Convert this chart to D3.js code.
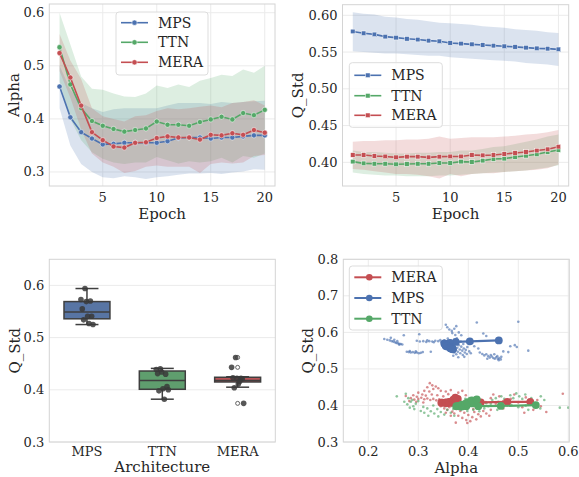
<!DOCTYPE html>
<html><head><meta charset="utf-8">
<script src="https://cdn.jsdelivr.net/npm/d3@7"></script>
<style>body{margin:0;background:#fff}svg{display:block}text{font-family:"DejaVu Serif",serif;fill:#262626}</style>
</head><body><svg id="c" width="579" height="477"></svg>
<script>
// ---------------- DATA ----------------
const epochs = d3.range(1, 21);
const archs = ["MPS", "TTN", "MERA"];
// Panel 1: Alpha mean per epoch
const alphaMPS  = [0.461,0.403,0.375,0.363,0.352,0.353,0.355,0.355,0.355,0.355,0.358,0.364,0.365,0.365,0.363,0.365,0.365,0.367,0.369,0.369];
const alphaTTN  = [0.535,0.465,0.420,0.396,0.387,0.381,0.376,0.379,0.382,0.395,0.389,0.389,0.387,0.394,0.399,0.404,0.399,0.411,0.407,0.417];
const alphaMERA = [0.524,0.478,0.425,0.375,0.360,0.348,0.346,0.355,0.356,0.364,0.367,0.365,0.365,0.361,0.370,0.369,0.373,0.370,0.379,0.374];
const alphaLoMPS  = [0.420,0.350,0.315,0.300,0.290,0.288,0.292,0.290,0.287,0.290,0.292,0.295,0.297,0.297,0.298,0.296,0.299,0.301,0.305,0.304];
const alphaHiMPS  = [0.500,0.455,0.430,0.420,0.413,0.418,0.420,0.420,0.420,0.420,0.425,0.430,0.430,0.430,0.428,0.432,0.430,0.432,0.433,0.434];
const alphaLoTTN  = [0.470,0.400,0.360,0.337,0.325,0.318,0.315,0.318,0.318,0.328,0.322,0.316,0.320,0.318,0.320,0.327,0.318,0.330,0.327,0.335];
const alphaHiTTN  = [0.600,0.540,0.480,0.457,0.455,0.448,0.442,0.441,0.448,0.463,0.458,0.465,0.460,0.472,0.477,0.483,0.481,0.493,0.487,0.500];
const alphaLoMERA = [0.490,0.440,0.380,0.335,0.318,0.310,0.298,0.302,0.310,0.312,0.310,0.310,0.310,0.298,0.315,0.318,0.316,0.318,0.330,0.332];
const alphaHiMERA = [0.560,0.510,0.475,0.420,0.405,0.400,0.395,0.405,0.407,0.415,0.420,0.418,0.420,0.423,0.425,0.422,0.430,0.432,0.435,0.425];
// Panel 2: Q_Std mean per epoch
const qMPS  = [0.578,0.5755,0.574,0.571,0.5696,0.568,0.567,0.5655,0.5646,0.5624,0.5615,0.5605,0.5596,0.5587,0.5578,0.557,0.556,0.555,0.5546,0.5537];
const qTTN  = [0.401,0.3986,0.398,0.398,0.3973,0.3977,0.398,0.398,0.399,0.399,0.401,0.4005,0.4023,0.4045,0.405,0.4073,0.409,0.4109,0.414,0.4168];
const qMERA = [0.410,0.410,0.4086,0.408,0.4068,0.4077,0.4077,0.4068,0.4077,0.408,0.408,0.410,0.4095,0.410,0.4113,0.4127,0.414,0.416,0.4177,0.4213];
const qHiMPS  = [0.604,0.602,0.601,0.598,0.597,0.595,0.594,0.592,0.590,0.589,0.588,0.587,0.585,0.584,0.583,0.581,0.580,0.579,0.577,0.576];
const qLoMPS  = [0.551,0.550,0.549,0.548,0.548,0.547,0.546,0.545,0.545,0.543,0.542,0.541,0.540,0.539,0.538,0.537,0.535,0.534,0.533,0.531];
const qHiTTN  = [0.416,0.414,0.414,0.413,0.412,0.412,0.413,0.413,0.414,0.414,0.416,0.416,0.418,0.421,0.422,0.425,0.428,0.431,0.435,0.438];
const qLoTTN  = [0.386,0.384,0.383,0.382,0.382,0.381,0.381,0.381,0.382,0.382,0.383,0.384,0.385,0.386,0.387,0.388,0.389,0.391,0.393,0.396];
const qHiMERA = [0.428,0.429,0.429,0.430,0.430,0.431,0.431,0.432,0.435,0.432,0.433,0.434,0.434,0.434,0.435,0.436,0.438,0.439,0.441,0.444];
const qLoMERA = [0.391,0.390,0.388,0.386,0.384,0.384,0.383,0.381,0.378,0.384,0.381,0.384,0.385,0.385,0.387,0.388,0.389,0.390,0.392,0.397];
// Panel 3: final Q_Std per run (box + strip)
const boxQ1  = [0.536, 0.401, 0.415];
const boxMed = [0.549, 0.418, 0.418];
const boxQ3  = [0.569, 0.436, 0.424];
const boxLo  = [0.525, 0.382, 0.405];
const boxHi  = [0.594, 0.441, 0.425];
const fliersMERA = [0.462, 0.443, 0.374];
const runsMPS  = [0.594,0.573,0.570,0.569,0.555,0.541,0.541,0.534,0.525,0.527];
const runsTTN  = [0.440,0.439,0.430,0.434,0.431,0.406,0.402,0.398,0.400,0.382];
const runsMERA = [0.462,0.443,0.422,0.422,0.423,0.421,0.411,0.404,0.374,0.416];
// Panel 4: per-run (Alpha, Q_Std) scatter
const ptsMPS = [[0.232,0.582],[0.238,0.580],[0.243,0.578],[0.247,0.576],[0.250,0.575],[0.253,0.573],[0.256,0.571],[0.259,0.570],[0.262,0.569],[0.265,0.568],[0.268,0.567],[0.245,0.585],[0.252,0.580],[0.258,0.576],[0.271,0.592],[0.262,0.566],[0.302,0.595],
[0.277,0.547],[0.281,0.546],[0.285,0.545],[0.289,0.546],[0.293,0.544],[0.297,0.545],[0.301,0.543],[0.305,0.544],[0.309,0.546],[0.283,0.549],[0.295,0.548],[0.325,0.547],
[0.297,0.577],[0.303,0.575],[0.310,0.576],[0.316,0.574],[0.322,0.576],[0.328,0.575],[0.334,0.577],[0.340,0.576],[0.346,0.574],[0.352,0.578],[0.318,0.578],[0.331,0.573],[0.344,0.579],[0.356,0.575],
[0.350,0.570],[0.355,0.566],[0.358,0.572],[0.360,0.562],[0.362,0.558],[0.364,0.566],[0.366,0.552],[0.368,0.548],[0.369,0.560],[0.371,0.556],[0.372,0.545],[0.373,0.563],[0.375,0.551],[0.376,0.540],[0.378,0.558],[0.379,0.547],[0.381,0.565],[0.383,0.553],[0.384,0.543],[0.386,0.561],[0.388,0.550],[0.389,0.538],[0.391,0.556],[0.393,0.545],[0.395,0.552],[0.397,0.541],[0.372,0.580],[0.377,0.584],[0.365,0.578],[0.359,0.583],[0.385,0.575],[0.390,0.568],[0.380,0.532],[0.370,0.536],[0.392,0.533],[0.398,0.560],[0.402,0.548],[0.405,0.543],
[0.355,0.621],[0.358,0.614],[0.362,0.608],[0.367,0.604],[0.372,0.610],[0.376,0.617],[0.368,0.598],[0.381,0.600],[0.386,0.592],[0.374,0.593],[0.417,0.627],[0.500,0.629],[0.430,0.597],[0.436,0.590],
[0.423,0.545],[0.428,0.541],[0.432,0.537],[0.436,0.540],[0.440,0.535],[0.443,0.531],[0.447,0.534],[0.450,0.530],[0.453,0.528],[0.456,0.532],[0.459,0.527],[0.462,0.530],[0.465,0.526],[0.445,0.538],[0.452,0.540],[0.438,0.528],[0.458,0.535],[0.466,0.533],[0.461,0.524],[0.470,0.548],[0.480,0.546],[0.493,0.565],[0.497,0.560],[0.520,0.550],[0.412,0.562],[0.420,0.556],[0.408,0.571],[0.484,0.562]];
const ptsMERA = [[0.323,0.461],[0.328,0.455],[0.318,0.450],[0.335,0.452],[0.330,0.445],[0.340,0.447],[0.312,0.440],[0.322,0.438],[0.345,0.440],[0.300,0.435],[0.308,0.430],[0.290,0.428],[0.297,0.424],[0.285,0.420],[0.292,0.416],[0.300,0.418],[0.306,0.421],[0.312,0.417],[0.318,0.419],[0.324,0.415],[0.330,0.418],[0.336,0.414],[0.342,0.417],[0.348,0.413],[0.354,0.416],[0.360,0.412],[0.366,0.418],[0.372,0.421],[0.378,0.425],[0.315,0.427],[0.327,0.430],[0.338,0.428],[0.350,0.425],[0.360,0.431],[0.282,0.412],[0.296,0.410],[0.310,0.408],[0.355,0.438],[0.365,0.442],[0.380,0.435],[0.388,0.440],[0.395,0.428],[0.275,0.426],
[0.345,0.398],[0.352,0.392],[0.358,0.388],[0.362,0.395],[0.368,0.383],[0.372,0.378],[0.376,0.390],[0.380,0.372],[0.384,0.385],[0.388,0.366],[0.392,0.380],[0.396,0.360],[0.400,0.374],[0.404,0.357],[0.408,0.368],[0.412,0.382],[0.416,0.362],[0.420,0.376],[0.425,0.370],[0.430,0.385],[0.436,0.378],[0.442,0.372],[0.375,0.353],[0.398,0.352],[0.365,0.372],[0.384,0.395],[0.355,0.380],[0.410,0.390],[0.445,0.388],
[0.425,0.415],[0.435,0.409],[0.445,0.420],[0.455,0.405],[0.462,0.425],[0.470,0.412],[0.478,0.400],[0.485,0.418],[0.492,0.430],[0.500,0.408],[0.508,0.395],[0.515,0.422],[0.522,0.402],[0.530,0.388],[0.538,0.415],[0.545,0.398],[0.556,0.382],[0.589,0.432],[0.512,0.380],[0.470,0.392],[0.450,0.430]];
const ptsTTN = [[0.257,0.425],[0.275,0.432],[0.280,0.420],[0.285,0.410],[0.278,0.403],[0.290,0.398],[0.283,0.394],[0.295,0.405],[0.288,0.415],[0.300,0.412],[0.272,0.410],[0.292,0.390],
[0.305,0.385],[0.312,0.380],[0.318,0.392],[0.325,0.384],[0.332,0.378],[0.338,0.390],[0.345,0.382],[0.352,0.375],[0.358,0.388],[0.365,0.380],[0.372,0.372],[0.320,0.372],[0.340,0.370],[0.310,0.396],[0.330,0.400],[0.355,0.398],
[0.362,0.405],[0.368,0.398],[0.372,0.410],[0.376,0.402],[0.380,0.395],[0.384,0.408],[0.388,0.400],[0.392,0.412],[0.396,0.404],[0.400,0.396],[0.404,0.408],[0.408,0.400],[0.412,0.414],[0.416,0.404],[0.420,0.396],[0.424,0.410],[0.428,0.402],[0.432,0.392],[0.436,0.406],[0.440,0.398],[0.386,0.388],[0.398,0.385],[0.410,0.388],[0.422,0.384],[0.378,0.415],[0.394,0.418],[0.402,0.420],[0.414,0.422],[0.370,0.390],[0.445,0.405],
[0.448,0.415],[0.455,0.420],[0.460,0.410],[0.466,0.425],[0.472,0.418],[0.478,0.412],[0.484,0.428],[0.490,0.420],[0.496,0.433],[0.502,0.425],[0.508,0.418],[0.514,0.430],[0.520,0.412],[0.526,0.420],[0.532,0.405],[0.538,0.398],[0.544,0.392],[0.470,0.398],[0.486,0.402],[0.500,0.395],[0.515,0.400],[0.458,0.388],[0.520,0.388],[0.583,0.394],[0.600,0.394],[0.552,0.415],[0.545,0.425]];
// tick labels
const ticksAlphaY = [0.3,0.4,0.5,0.6];
const ticksEpoch = [5,10,15,20];
const ticksQY = [0.40,0.45,0.50,0.55,0.60];
const ticksBoxY = [0.3,0.4,0.5,0.6];
const ticksScatY = [0.3,0.4,0.5,0.6,0.7,0.8];
const ticksScatX = [0.2,0.3,0.4,0.5,0.6];

// ---------------- STYLE ----------------
const col = {MPS:"#4c72b0", TTN:"#55a868", MERA:"#c44e52"};
const boxCol = {MPS:"#5875a4", TTN:"#5f9e6e", MERA:"#bb5558"};
const GRID="#ebebeb", FRAME="#d4d4d4";
const svg = d3.select("#c");

function panel(r, x, y, xt, yt, fx, fy, opt){
  const g = svg.append("g");
  if (opt.gridX !== false) g.selectAll(null).data(xt).join("line")
    .attr("x1",d=>x(d)).attr("x2",d=>x(d)).attr("y1",r.y0).attr("y2",r.y1)
    .attr("stroke",GRID).attr("stroke-width",1);
  g.selectAll(null).data(yt).join("text").attr("x",r.x0-5).attr("y",d=>y(d)+4.5)
    .attr("text-anchor","end").attr("font-size",13).text(fy);
  g.selectAll(null).data(yt).join("line")
    .attr("y1",d=>y(d)).attr("y2",d=>y(d)).attr("x1",r.x0).attr("x2",r.x1)
    .attr("stroke",GRID).attr("stroke-width",1);
  if (xt) g.selectAll(null).data(xt).join("text").attr("x",d=>x(d)).attr("y",opt.xtY)
    .attr("text-anchor","middle").attr("font-size",13).text(fx);
  g.append("text").attr("x",(r.x0+r.x1)/2).attr("y",opt.xlY).attr("text-anchor","middle")
    .attr("font-size",15).text(opt.xl);
  g.append("text").attr("transform",`translate(${opt.ylX},${(r.y0+r.y1)/2}) rotate(-90)`)
    .attr("text-anchor","middle").attr("font-size",15).text(opt.yl);
  return g;
}
function frame(r){
  svg.append("rect").attr("x",r.x0).attr("y",r.y0).attr("width",r.x1-r.x0).attr("height",r.y1-r.y0)
    .attr("fill","none").attr("stroke",FRAME).attr("stroke-width",1);
}
function legend(x0,y0,w,h,rows,rowY,marker){
  const g = svg.append("g");
  g.append("rect").attr("x",x0).attr("y",y0).attr("width",w).attr("height",h).attr("rx",3)
    .attr("fill","#fff").attr("fill-opacity",0.8).attr("stroke","#dddddd");
  rows.forEach((a,i)=>{
    const yy = y0+rowY[i];
    g.append("line").attr("x1",x0+5).attr("x2",x0+32).attr("y1",yy).attr("y2",yy)
      .attr("stroke",col[a]).attr("stroke-width",marker.lw);
    marker.draw(g, x0+18.5, yy, col[a]);
    g.append("text").attr("x",x0+42).attr("y",yy+5).attr("font-size",14).text(a);
  });
}
const circ = r => (g,cx,cy,c)=>g.append("circle").attr("cx",cx).attr("cy",cy).attr("r",r).attr("fill",c).attr("stroke","#fff").attr("stroke-width",0.5);
const sq = s => (g,cx,cy,c)=>g.append("rect").attr("x",cx-s/2).attr("y",cy-s/2).attr("width",s).attr("height",s).attr("fill",c).attr("stroke","#fff").attr("stroke-width",0.5);

// ---------- Panel 1 ----------
{
  const r = {x0:49.3,x1:275,y0:4,y1:186};
  const x = d3.scaleLinear().domain([0.05,20.95]).range([r.x0,r.x1]);
  const y = d3.scaleLinear().domain([0.2736,0.6164]).range([r.y1,r.y0]);
  panel(r,x,y,ticksEpoch,ticksAlphaY,d=>d,d3.format(".1f"),{xtY:202,xlY:219,xl:"Epoch",ylX:19,yl:"Alpha"});
  const series = [["MPS",alphaMPS,alphaLoMPS,alphaHiMPS],["TTN",alphaTTN,alphaLoTTN,alphaHiTTN],["MERA",alphaMERA,alphaLoMERA,alphaHiMERA]];
  const g = svg.append("g");
  series.forEach(([a,m,lo,hi])=>{
    g.append("path").datum(epochs.map((e,i)=>[e,lo[i],hi[i]]))
      .attr("d",d3.area().x(d=>x(d[0])).y0(d=>y(d[1])).y1(d=>y(d[2])))
      .attr("fill",col[a]).attr("fill-opacity",0.2);
  });
  series.forEach(([a,m])=>{
    g.append("path").datum(epochs.map((e,i)=>[e,m[i]]))
      .attr("d",d3.line().x(d=>x(d[0])).y(d=>y(d[1]))).attr("fill","none").attr("stroke",col[a]).attr("stroke-width",1.6);
    epochs.forEach((e,i)=>circ(2.6)(g,x(e),y(m[i]),col[a]));
  });
  frame(r);
  legend(116,12,92,63,archs,[10.7,30.3,50.3],{lw:1.6,draw:circ(2.6)});
}
// ---------- Panel 2 ----------
{
  const r = {x0:342.5,x1:568.7,y0:4.7,y1:186};
  const x = d3.scaleLinear().domain([0.05,20.95]).range([r.x0,r.x1]);
  const y = d3.scaleLinear().domain([0.3678,0.6144]).range([r.y1,r.y0]);
  panel(r,x,y,ticksEpoch,ticksQY,d=>d,d3.format(".2f"),{xtY:202,xlY:219,xl:"Epoch",ylX:303,yl:"Q_Std"});
  const series = [["MPS",qMPS,qLoMPS,qHiMPS],["TTN",qTTN,qLoTTN,qHiTTN],["MERA",qMERA,qLoMERA,qHiMERA]];
  const g = svg.append("g");
  series.forEach(([a,m,lo,hi])=>{
    g.append("path").datum(epochs.map((e,i)=>[e,lo[i],hi[i]]))
      .attr("d",d3.area().x(d=>x(d[0])).y0(d=>y(d[1])).y1(d=>y(d[2])))
      .attr("fill",col[a]).attr("fill-opacity",0.2);
  });
  series.forEach(([a,m])=>{
    g.append("path").datum(epochs.map((e,i)=>[e,m[i]]))
      .attr("d",d3.line().x(d=>x(d[0])).y(d=>y(d[1]))).attr("fill","none").attr("stroke",col[a]).attr("stroke-width",1.6);
    epochs.forEach((e,i)=>sq(4.6)(g,x(e),y(m[i]),col[a]));
  });
  frame(r);
  legend(349.3,62.7,93,64.6,archs,[12.6,33,52.6],{lw:1.6,draw:sq(4.6)});
}
// ---------- Panel 3 ----------
{
  const r = {x0:49.3,x1:275.3,y0:259.3,y1:442};
  const x = d3.scaleBand().domain(archs).range([r.x0,r.x1]);
  const y = d3.scaleLinear().domain([0.3,0.65]).range([r.y1,r.y0]);
  panel(r,x,y,null,ticksBoxY,null,d3.format(".1f"),{gridX:false,xlY:472,xl:"Architecture",ylX:19.5,yl:"Q_Std"});
  const g = svg.append("g");
  g.selectAll(null).data(archs).join("text").attr("x",d=>x(d)+x.bandwidth()/2).attr("y",455.5)
    .attr("text-anchor","middle").attr("font-size",13).text(d=>d);
  const bw = x.bandwidth()*0.61, EDGE="#3f3f3f";
  archs.forEach((a,i)=>{
    const cx = x(a)+x.bandwidth()/2;
    g.append("line").attr("x1",cx).attr("x2",cx).attr("y1",y(boxHi[i])).attr("y2",y(boxQ3[i])).attr("stroke",EDGE).attr("stroke-width",1.5);
    g.append("line").attr("x1",cx).attr("x2",cx).attr("y1",y(boxLo[i])).attr("y2",y(boxQ1[i])).attr("stroke",EDGE).attr("stroke-width",1.5);
    [boxHi[i],boxLo[i]].forEach(v=>g.append("line").attr("x1",cx-bw/4).attr("x2",cx+bw/4).attr("y1",y(v)).attr("y2",y(v)).attr("stroke",EDGE).attr("stroke-width",1.5));
    g.append("rect").attr("x",cx-bw/2).attr("y",y(boxQ3[i])).attr("width",bw).attr("height",y(boxQ1[i])-y(boxQ3[i]))
      .attr("fill",boxCol[a]).attr("stroke",EDGE).attr("stroke-width",1.5);
    g.append("line").attr("x1",cx-bw/2).attr("x2",cx+bw/2).attr("y1",y(boxMed[i])).attr("y2",y(boxMed[i])).attr("stroke",EDGE).attr("stroke-width",1.5);
  });
  const cxM = x("MERA")+x.bandwidth()/2;
  fliersMERA.forEach(v=>g.append("circle").attr("cx",cxM).attr("cy",y(v)).attr("r",2).attr("fill","none").attr("stroke",EDGE).attr("stroke-width",0.8));
  const runs = {MPS:runsMPS,TTN:runsTTN,MERA:runsMERA};
  archs.forEach(a=>{
    const cx = x(a)+x.bandwidth()/2;
    runs[a].forEach((v,j)=>{
      const jit = (((j*7+3)%10)/9-0.5)*0.16*x.bandwidth();
      g.append("circle").attr("cx",cx+jit).attr("cy",y(v)).attr("r",2.8).attr("fill","#3a3a3a").attr("fill-opacity",0.85);
    });
  });
  frame(r);
}
// ---------- Panel 4 ----------
{
  const r = {x0:343.3,x1:569.3,y0:259.3,y1:442};
  const x = d3.scaleLinear().domain([0.15,0.602]).range([r.x0,r.x1]);
  const y = d3.scaleLinear().domain([0.3,0.8]).range([r.y1,r.y0]);
  panel(r,x,y,ticksScatX,ticksScatY,d3.format(".1f"),d3.format(".1f"),{xtY:455.5,xlY:472.5,xl:"Alpha",ylX:313,yl:"Q_Std"});
  const g = svg.append("g");
  svg.append("clipPath").attr("id","cp4").append("rect").attr("x",r.x0).attr("y",r.y0).attr("width",r.x1-r.x0).attr("height",r.y1-r.y0);
  g.attr("clip-path","url(#cp4)");
  [["MERA",ptsMERA],["MPS",ptsMPS],["TTN",ptsTTN]].forEach(([a,p])=>{
    g.selectAll(null).data(p).join("circle").attr("cx",d=>x(d[0])).attr("cy",d=>y(d[1])).attr("r",1.3)
      .attr("fill",col[a]).attr("fill-opacity",0.65);
  });
  const means = [["MERA",alphaMERA,qMERA],["MPS",alphaMPS,qMPS],["TTN",alphaTTN,qTTN]];
  means.forEach(([a,ax,qy])=>{
    const pts = ax.map((v,i)=>[v,qy[i]]);
    g.append("path").datum(pts).attr("d",d3.line().x(d=>x(d[0])).y(d=>y(d[1])))
      .attr("fill","none").attr("stroke",col[a]).attr("stroke-width",2.2);
    g.selectAll(null).data(pts).join("circle").attr("cx",d=>x(d[0])).attr("cy",d=>y(d[1])).attr("r",3.9).attr("fill",col[a]);
  });
  frame(r);
  legend(349.3,266,93,64,["MERA","MPS","TTN"],[11.3,32,52.7],{lw:2,draw:(g,cx,cy,c)=>g.append("circle").attr("cx",cx+1.5).attr("cy",cy).attr("r",3.3).attr("fill",c)});
}
</script></body></html>
